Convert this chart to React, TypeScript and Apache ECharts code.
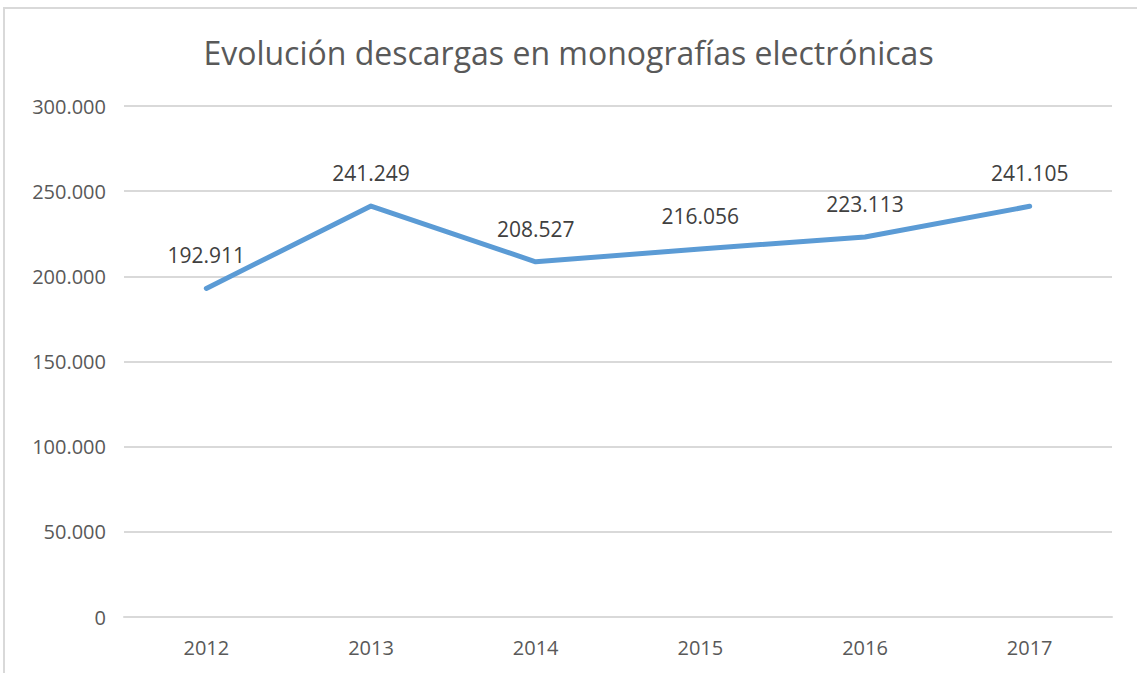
import React, { useEffect, useRef } from "react";
import * as echarts from "echarts";

const years = ["2012", "2013", "2014", "2015", "2016", "2017"];
const downloads = [192911, 241249, 208527, 216056, 223113, 241105];
const titleText = "Evolución descargas en monografías electrónicas";

const fmt = (v: number) => {
  const s = Math.round(v).toString();
  return s.replace(/\B(?=(\d{3})+(?!\d))/g, ".");
};

export default function App() {
  const ref = useRef<HTMLDivElement>(null);
  useEffect(() => {
    if (!ref.current) return;
    const chart = echarts.init(ref.current, null, { renderer: "svg" });
    chart.setOption({
      animation: false,
      backgroundColor: "#ffffff",
      title: {
        text: titleText,
        left: "center",
        top: 31,
        textStyle: {
          fontFamily: "Open Sans",
          fontWeight: "normal",
          fontSize: 32,
          color: "#595959",
        },
      },
      graphic: [
        {
          type: "rect",
          shape: { x: 4, y: 8, width: 1150, height: 700 },
          style: { fill: "none", stroke: "#d9d9d9", lineWidth: 2 },
          silent: true,
        },
      ],
      grid: { left: 124, right: 25, top: 106, bottom: 56, containLabel: false },
      xAxis: {
        type: "category",
        data: years,
        boundaryGap: true,
        axisLine: { show: true, lineStyle: { color: "#d9d9d9", width: 2 } },
        axisTick: { show: false },
        axisLabel: {
          color: "#595959",
          fontFamily: "Open Sans",
          fontSize: 20,
          margin: 20,
        },
      },
      yAxis: {
        type: "value",
        min: 0,
        max: 300000,
        interval: 50000,
        axisLine: { show: false },
        axisTick: { show: false },
        splitLine: { lineStyle: { color: "#d9d9d9", width: 2 } },
        axisLabel: {
          color: "#595959",
          fontFamily: "Open Sans",
          fontSize: 20,
          margin: 18,
          formatter: (v: number) => fmt(v),
        },
      },
      series: [
        {
          type: "line",
          data: downloads,
          showSymbol: true,
          symbol: "circle",
          symbolSize: 1,
          lineStyle: { color: "#5B9BD5", width: 5, cap: "round", join: "round" },
          itemStyle: { color: "#5B9BD5" },
          label: {
            show: true,
            position: "top",
            distance: 22,
            color: "#404040",
            fontFamily: "Open Sans",
            fontSize: 21,
            formatter: (p: any) => fmt(p.value),
          },
        },
      ],
    });
    return () => chart.dispose();
  }, []);
  return (
    <div
      ref={ref}
      style={{ position: "fixed", left: 0, top: 0, width: 1137, height: 673 }}
    />
  );
}
